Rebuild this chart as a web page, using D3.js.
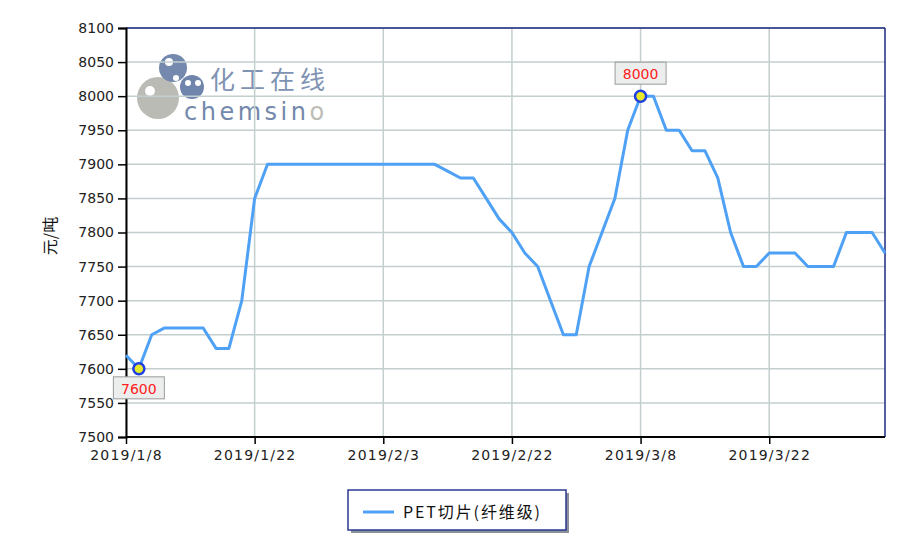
<!DOCTYPE html>
<html><head><meta charset="utf-8">
<script src="https://cdn.jsdelivr.net/npm/d3@7/dist/d3.min.js"></script>
<style>body{margin:0;background:#fff;}svg{display:block;font-family:"DejaVu Sans",sans-serif;}</style>
</head><body><svg id="c" width="914" height="548"></svg>
<script>
const values = [7620,7600,7650,7660,7660,7660,7660,7630,7630,7700,
  7850,7900,7900,7900,7900,7900,7900,7900,7900,7900,
  7900,7900,7900,7900,7900,7890,7880,7880,7850,7820,
  7800,7770,7750,7700,7650,7650,7750,7800,7850,7950,
  8000,8000,7950,7950,7920,7920,7880,7800,7750,7750,
  7770,7770,7770,7750,7750,7750,7800,7800,7800,7770];
const tickIndex = [0,10,20,30,40,50];
const tickLabels = ["2019/1/8","2019/1/22","2019/2/3","2019/2/22","2019/3/8","2019/3/22"];
const yTicks = [7500,7550,7600,7650,7700,7750,7800,7850,7900,7950,8000,8050,8100];
const seriesName = "PET切片(纤维级)";
const yTitle = "元/吨";
const annotations = [{i:1, v:7600, pos:"below"}, {i:40, v:8000, pos:"above"}];

const svg = d3.select("#c");
const L=126, R=885, T=28, B=437;
const x = d3.scaleLinear().domain([0, values.length-1]).range([L, R]);
const y = d3.scaleLinear().domain([7500, 8100]).range([B, T]);

// watermark
const wm = svg.append("g");
wm.append("circle").attr("cx",158).attr("cy",98).attr("r",21).attr("fill","#b9bbb4");
wm.append("circle").attr("cx",150).attr("cy",91).attr("r",5).attr("fill","#fff");
wm.append("circle").attr("cx",173).attr("cy",68).attr("r",14).attr("fill","#7489ad");
wm.append("circle").attr("cx",169).attr("cy",62).attr("r",4).attr("fill","#fff");
wm.append("circle").attr("cx",176).attr("cy",78).attr("r",3).attr("fill","#fff");
wm.append("circle").attr("cx",192).attr("cy",87).attr("r",12).attr("fill","#6f85ab");
wm.append("circle").attr("cx",188).attr("cy",83).attr("r",3).attr("fill","#fff");
wm.append("circle").attr("cx",198).attr("cy",83).attr("r",3).attr("fill","#fff");
wm.append("text").attr("x",210).attr("y",89).attr("font-size",25).attr("fill","#7f93b3")
  .attr("font-family","'Noto Sans CJK SC',sans-serif").attr("textLength",115).text("化工在线");
const ct = wm.append("text").attr("x",184).attr("y",120).attr("font-size",24).attr("letter-spacing",3.5)
  .attr("font-family","'DejaVu Sans',sans-serif").attr("fill","#7388ab");
ct.append("tspan").text("chemsin");
ct.append("tspan").attr("fill","#bcbdb7").text("o");

// grid
svg.append("g").selectAll("line.h").data(yTicks).join("line")
  .attr("x1",L).attr("x2",R).attr("y1",d=>y(d)).attr("y2",d=>y(d))
  .attr("stroke","#c3cfcf").attr("stroke-width",1.5);
svg.append("g").selectAll("line.v").data(tickIndex).join("line")
  .attr("x1",d=>x(d)).attr("x2",d=>x(d)).attr("y1",T).attr("y2",B)
  .attr("stroke","#c3cfcf").attr("stroke-width",1.5);

// frame
svg.append("line").attr("x1",L).attr("x2",R).attr("y1",T).attr("y2",T).attr("stroke","#1a2a80").attr("stroke-width",1.5);
svg.append("line").attr("x1",R).attr("x2",R).attr("y1",T).attr("y2",B).attr("stroke","#1a2a80").attr("stroke-width",1.5);

// axes
const yAxis = d3.axisLeft(y).tickValues(yTicks).tickSize(8).tickPadding(4).tickFormat(d3.format("d"));
const gy = svg.append("g").attr("transform",`translate(${L},0)`).call(yAxis);
gy.select(".domain").attr("stroke","#000").attr("stroke-width",2);
gy.selectAll(".tick line").attr("stroke","#000").attr("stroke-width",1.5);
gy.selectAll(".tick text").attr("font-size",14).attr("fill","#222").attr("font-family","'DejaVu Sans',sans-serif");

const xAxis = d3.axisBottom(x).tickValues(tickIndex).tickSize(7).tickPadding(6)
  .tickFormat((d,i)=>tickLabels[i]);
const gx = svg.append("g").attr("transform",`translate(0,${B})`).call(xAxis);
gx.select(".domain").attr("stroke","#000").attr("stroke-width",2).attr("d",`M${L},0H${R}`);
gx.selectAll(".tick line").attr("stroke","#000").attr("stroke-width",1.5);
gx.selectAll(".tick text").attr("font-size",14).attr("fill","#222").attr("letter-spacing",1.2)
  .attr("font-family","'DejaVu Sans',sans-serif");

// y title
svg.append("text").attr("transform","translate(56,236) rotate(-90)").attr("text-anchor","middle")
  .attr("font-size",16).attr("fill","#111").attr("font-family","'Noto Sans CJK SC',sans-serif").text(yTitle);

// line
const lineGen = d3.line().x((d,i)=>x(i)).y(d=>y(d));
svg.append("path").datum(values).attr("d",lineGen).attr("fill","none")
  .attr("stroke","#4ea1f5").attr("stroke-width",3).attr("stroke-linejoin","round");

// annotations
annotations.forEach(a=>{
  const cx=x(a.i), cy=y(a.v);
  const bw=51, bh=22;
  const by = a.pos==="below" ? cy+8 : cy-12-bh;
  svg.append("rect").attr("x",cx-bw/2).attr("y",by).attr("width",bw).attr("height",bh)
    .attr("fill","#eceeee").attr("stroke","#9a9a9a").attr("stroke-width",1);
  svg.append("text").attr("x",cx).attr("y",by+17).attr("text-anchor","middle").attr("font-size",14)
    .attr("fill","#ff2020").attr("font-family","'DejaVu Sans',sans-serif").text(a.v);
  svg.append("circle").attr("cx",cx).attr("cy",cy).attr("r",5.5).attr("fill","#e6ea2a")
    .attr("stroke","#1f3fe0").attr("stroke-width",2.5);
});

// legend
const lg = svg.append("g");
lg.append("rect").attr("x",351).attr("y",493).attr("width",218).attr("height",40).attr("fill","#8a8f99");
lg.append("rect").attr("x",348).attr("y",490).attr("width",218).attr("height",40).attr("fill","#fff")
  .attr("stroke","#2a3a90").attr("stroke-width",1.5);
lg.append("line").attr("x1",363).attr("x2",394).attr("y1",512).attr("y2",512).attr("stroke","#4ea1f5").attr("stroke-width",3);
lg.append("text").attr("x",403).attr("y",518).attr("font-size",16).attr("fill","#111")
  .attr("textLength",137).attr("lengthAdjust","spacing")
  .attr("font-family","'Noto Sans CJK SC',sans-serif").text(seriesName);
</script></body></html>
